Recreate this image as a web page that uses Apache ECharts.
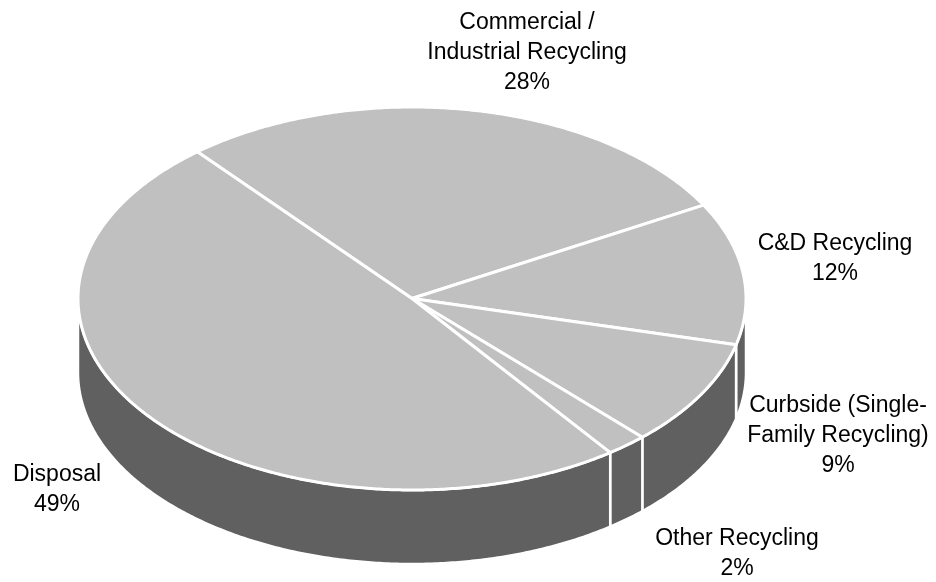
<!DOCTYPE html>
<html>
<head>
<meta charset="utf-8">
<script src="https://cdn.jsdelivr.net/npm/echarts@6/dist/echarts.min.js"></script>
<style>
html,body{margin:0;padding:0;background:#fff;}
#chart{width:936px;height:582px;}
</style>
</head>
<body>
<div id="chart"></div>
<script>
// ---- data ----
const categories = ['Commercial /\nIndustrial Recycling', 'C&D Recycling', 'Curbside (Single-\nFamily Recycling)', 'Other Recycling', 'Disposal'];
const values = [28, 12, 9, 2, 49];
const percentLabels = ['28%', '12%', '9%', '2%', '49%'];

// ---- layout / style ----
const CX = 412, CY = 298.5, RX = 334, RY = 191.5, DEPTH = 74;
const START_DEG = 130; // math angle where first slice begins, going clockwise
const TOP_COLOR = '#c0c0c0', WALL_COLOR = '#606060';
const labelPos = [[527, 53], [835, 259], [838, 436], [737, 554], [57, 490]];
const FONT = '"Liberation Sans", Arial, sans-serif';

const total = values.reduce((a, b) => a + b, 0);
let acc = 0;
const seriesData = values.map((v, i) => {
  const d = { name: categories[i], value: [acc, v] };
  acc += v;
  return d;
});

function pt(deg, dy) {
  const r = deg * Math.PI / 180;
  return [CX + RX * Math.cos(r), CY - RY * Math.sin(r) + (dy || 0)];
}
function arc(from, to, dy) {
  const pts = [];
  const n = Math.max(2, Math.ceil(Math.abs(to - from) / 0.5));
  for (let k = 0; k <= n; k++) pts.push(pt(from + (to - from) * k / n, dy));
  return pts;
}

function renderItem(params, api) {
  const cum = api.value(0), v = api.value(1);
  const a0 = START_DEG - cum / total * 360;
  const a1 = a0 - v / total * 360;
  const children = [];
  // front wall (visible where angle in [-180, 0] + 360k)
  for (let k = -1; k <= 1; k++) {
    const lo = Math.max(a1, -180 + 360 * k);
    const hi = Math.min(a0, 360 * k);
    if (hi - lo > 0.01) {
      const top = arc(lo, hi, 0);
      const bot = arc(hi, lo, DEPTH);
      children.push({
        type: 'polygon', z2: 1,
        shape: { points: top.concat(bot) },
        style: { fill: WALL_COLOR, stroke: '#ffffff', lineWidth: 2.5, lineJoin: 'miter' }
      });
    }
  }
  // top face
  const topPts = [[CX, CY]].concat(arc(a0, a1, 0));
  children.push({
    type: 'polygon', z2: 10,
    shape: { points: topPts },
    style: { fill: TOP_COLOR, stroke: '#ffffff', lineWidth: 3, lineJoin: 'round' }
  });
  return { type: 'group', children: children };
}

const chart = echarts.init(document.getElementById('chart'), null, { renderer: 'canvas' });
chart.setOption({
  backgroundColor: '#ffffff',
  animation: false,
  series: [{
    type: 'custom',
    coordinateSystem: 'none',
    renderItem: renderItem,
    data: seriesData,
    silent: true
  }],
  graphic: categories.map((c, i) => ({
    type: 'text',
    x: labelPos[i][0],
    y: labelPos[i][1],
    style: {
      text: c + '\n' + percentLabels[i],
      font: '23px ' + FONT,
      fill: '#000000',
      align: 'center',
      verticalAlign: 'middle',
      lineHeight: 30
    }
  }))
});
</script>
</body>
</html>
